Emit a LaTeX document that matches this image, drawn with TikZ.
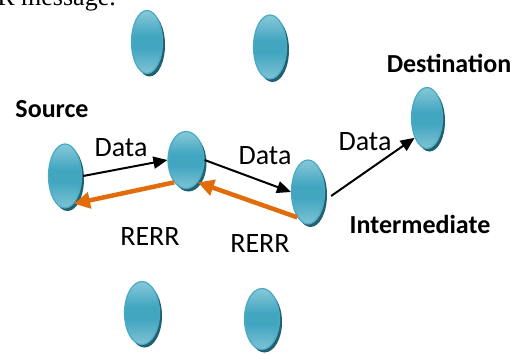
\documentclass[tikz,border=0pt]{standalone}
\usepackage{fontspec}
\setmainfont{Carlito}
\newfontfamily\capfont{Liberation Serif}
\usetikzlibrary{shapes.geometric,arrows.meta,shadows}
\definecolor{ndtop}{HTML}{92CDDC}
\definecolor{ndmid}{HTML}{42A6C1}
\definecolor{ndbot}{HTML}{88C7D7}
\definecolor{ndline}{HTML}{4AAAC4}
\definecolor{ndshadow}{HTML}{21606F}
\definecolor{rerr}{HTML}{E36C0A}
\pgfdeclareverticalshading{hostshade}{100bp}{color(0bp)=(ndbot); color(22bp)=(ndbot); color(45bp)=(ndmid); color(55bp)=(ndmid); color(78bp)=(ndtop); color(100bp)=(ndtop)}
\tikzset{
  hostnode/.style={ellipse, inner sep=0pt, draw=ndline, line width=1.2pt,
    shade, shading=hostshade,
    general shadow={fill=ndshadow, shadow xshift=2.5pt, shadow yshift=-3pt}},
  boldlabel/.style={font=\fontsize{26}{30}\selectfont\bfseries, inner sep=0pt},
  msglabel/.style={font=\fontsize{28}{32}\selectfont, inner sep=0pt},
  dataarrow/.style={draw=black, line width=2pt, -{Triangle[length=14pt,width=12pt]}},
  rerrarrow/.style={draw=rerr, line width=4.5pt, -{Triangle[length=16pt,width=16pt]}}
}
\begin{document}
\begin{tikzpicture}[x=1pt,y=-1pt]
\useasboundingbox (0,0) rectangle (521,354);
% cropped caption fragment at top
\node[anchor=base east, inner sep=0pt, font=\capfont\fontsize{26}{30}\selectfont] (cap) at (116,5) {R message.};
% hosts
\node[hostnode, minimum width=31pt, minimum height=63pt] (t1) at (147,42) {};
\node[hostnode, minimum width=33pt, minimum height=64pt] (t2) at (270,47) {};
\node[hostnode, minimum width=33pt, minimum height=64pt] (src) at (65,176) {};
\node[hostnode, minimum width=36pt, minimum height=57pt] (n2) at (186,160) {};
\node[hostnode, minimum width=33pt, minimum height=64pt] (inter) at (308,192) {};
\node[hostnode, minimum width=31pt, minimum height=61pt] (dest) at (427,118) {};
\node[hostnode, minimum width=35pt, minimum height=63pt] (b1) at (142,313) {};
\node[hostnode, minimum width=35pt, minimum height=61pt] (b2) at (262,319) {};
% labels
\node[boldlabel] (lsrc) at (52,109) {Source};
\node[boldlabel] (ldest) at (449,63) {Destination};
\node[boldlabel] (linter) at (420,224) {Intermediate};
\node[msglabel] (d1) at (121,148) {Data};
\node[msglabel] (d2) at (265,156) {Data};
\node[msglabel] (d3) at (365,142) {Data};
\node[msglabel] (r1) at (150,237) {RERR};
\node[msglabel] (r2) at (260,244) {RERR};
% data arrows
\draw[dataarrow] ([xshift=1pt]src.east) -- (n2.west);
\draw[dataarrow] (n2.east) -- (inter.west);
\draw[dataarrow] ([shift={(6pt,-4pt)}]inter.east) -- (dest.238);
% RERR arrows
\draw[rerrarrow] (n2.242) -- (src.288);
\draw[rerrarrow] (inter.247) -- (n2.298);
\end{tikzpicture}
\end{document}
